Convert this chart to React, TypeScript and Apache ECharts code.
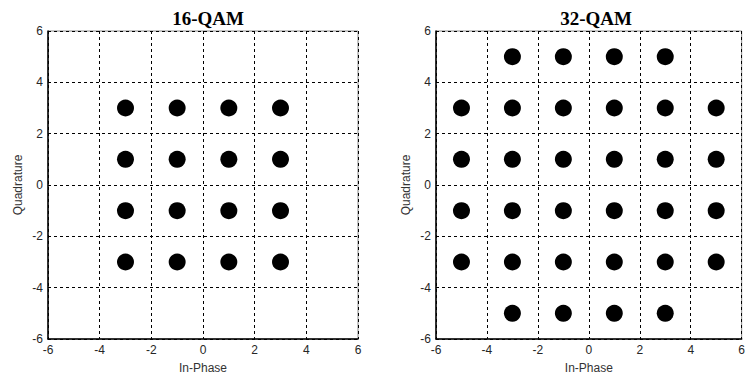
import React, { useEffect, useRef } from "react";
import * as echarts from "echarts";

const titles = ["16-QAM", "32-QAM"];

const qam16: number[][] = [
  [-3, 3], [-1, 3], [1, 3], [3, 3],
  [-3, 1], [-1, 1], [1, 1], [3, 1],
  [-3, -1], [-1, -1], [1, -1], [3, -1],
  [-3, -3], [-1, -3], [1, -3], [3, -3],
];

const qam32: number[][] = [
  [-3, 5], [-1, 5], [1, 5], [3, 5],
  [-5, 3], [-3, 3], [-1, 3], [1, 3], [3, 3], [5, 3],
  [-5, 1], [-3, 1], [-1, 1], [1, 1], [3, 1], [5, 1],
  [-5, -1], [-3, -1], [-1, -1], [1, -1], [3, -1], [5, -1],
  [-5, -3], [-3, -3], [-1, -3], [1, -3], [3, -3], [5, -3],
  [-3, -5], [-1, -5], [1, -5], [3, -5],
];

const grids = [
  { left: 48, top: 31, width: 310, height: 310 },
  { left: 436, top: 31, width: 310, height: 310 },
];

export default function App() {
  const ref = useRef<HTMLDivElement>(null);
  useEffect(() => {
    if (!ref.current) return;
    const chart = echarts.init(ref.current, null, { renderer: "svg" });
    const labelStyle = { color: "#262626", fontSize: 12, fontFamily: "Liberation Sans" };
    const axisCommon = (gridIndex: number) => ({
      gridIndex,
      type: "value" as const,
      min: -6,
      max: 6,
      interval: 2,
      axisLine: { show: true, onZero: false, lineStyle: { color: "#000", width: 1.5 } },
      axisTick: { show: false },
      axisLabel: { ...labelStyle, margin: 5 },
      splitLine: { show: true, lineStyle: { color: "#000", type: [3, 3], width: 1 } },
      nameTextStyle: { color: "#333", fontSize: 12, fontFamily: "Liberation Sans" },
    });
    chart.setOption({
      animation: false,
      backgroundColor: "#fff",
      title: titles.map((t, i) => ({
        text: t,
        left: grids[i].left + grids[i].width / 2,
        textAlign: "center",
        top: 4,
        textStyle: { fontFamily: "Liberation Serif", fontWeight: "bold", fontSize: 19, color: "#000" },
      })),
      grid: grids.map((g) => ({ ...g, show: true, borderColor: "#8a8a8a", borderWidth: 1, backgroundColor: "#fff" })),
      xAxis: grids.map((_, i) => ({
        ...axisCommon(i),
        name: "In-Phase",
        nameLocation: "middle",
        nameGap: 23,
      })),
      yAxis: grids.map((_, i) => ({
        ...axisCommon(i),
        name: "Quadrature",
        nameLocation: "middle",
        nameGap: 24,
      })),
      series: [qam16, qam32].map((d, i) => ({
        type: "scatter",
        xAxisIndex: i,
        yAxisIndex: i,
        data: d,
        symbol: "circle",
        symbolSize: 17,
        itemStyle: { color: "#000", opacity: 1 },
      })),
    });
    return () => chart.dispose();
  }, []);
  return <div ref={ref} style={{ width: 748, height: 379, position: "absolute", left: 0, top: 0 }} />;
}
